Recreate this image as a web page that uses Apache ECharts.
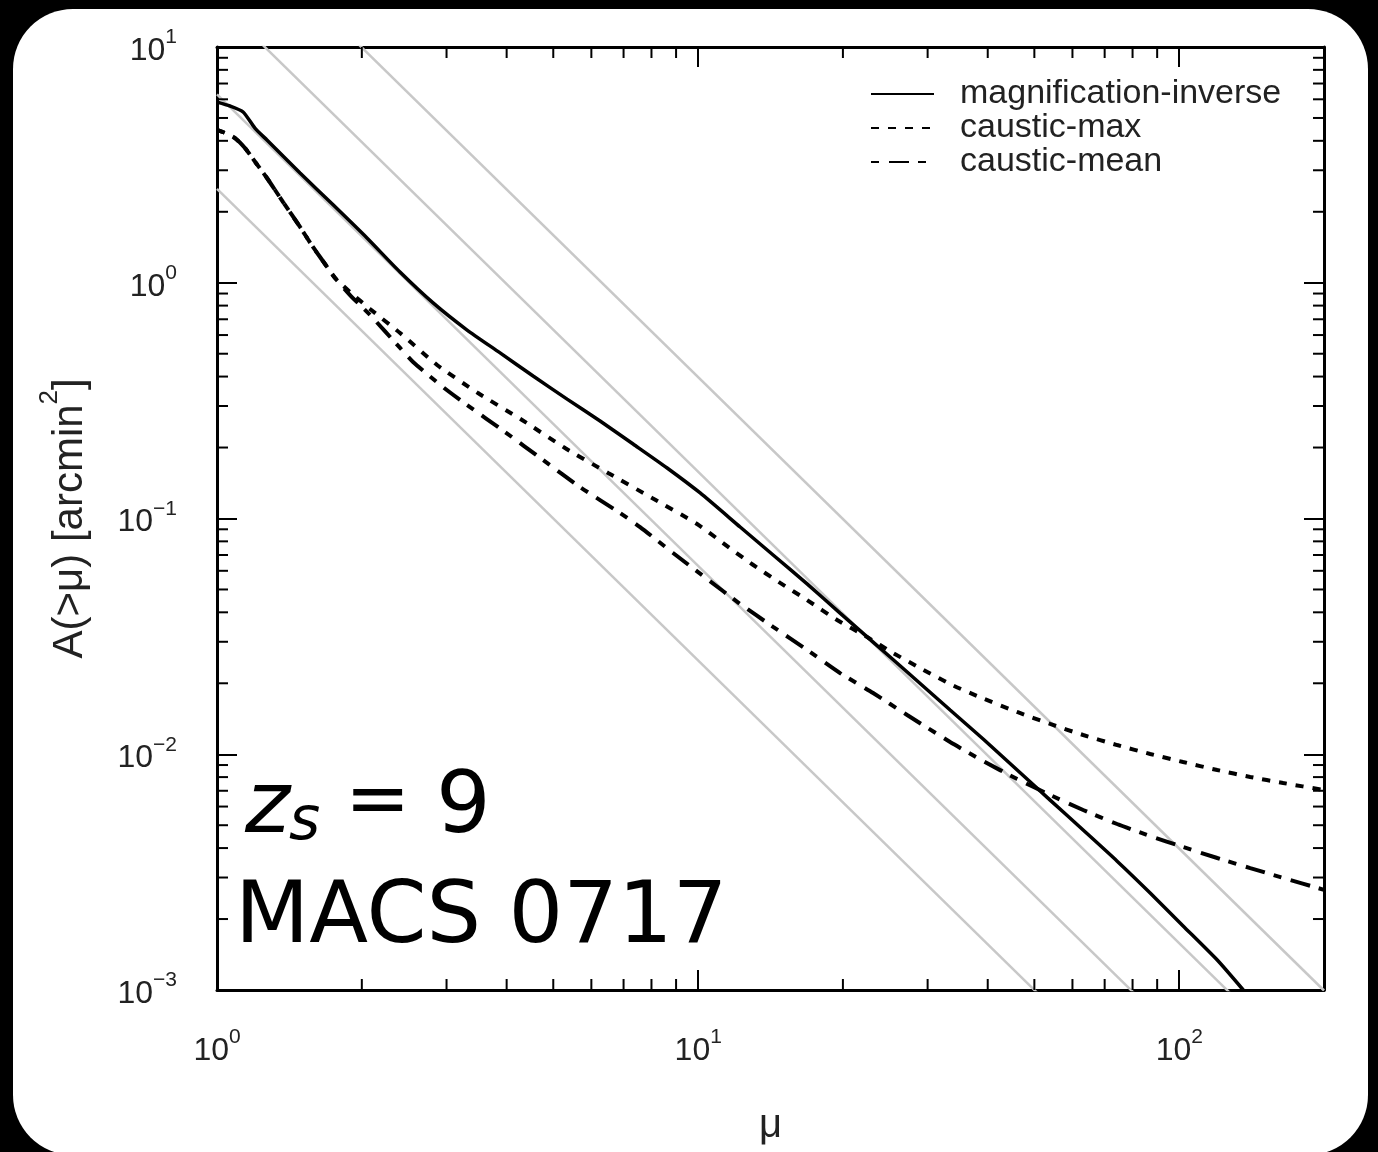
<!DOCTYPE html>
<html>
<head>
<meta charset="utf-8">
<script src="https://cdn.jsdelivr.net/npm/echarts@6/dist/echarts.min.js"></script>
<style>
  html, body { margin: 0; padding: 0; background: #000; }
  #chart { width: 1378px; height: 1152px; }
</style>
</head>
<body>
<div id="chart"></div>
<script>
// Cumulative lensed area A(>mu) [arcmin^2] against magnification mu
const magnificationInverse = [
  [1.000, 5.84], [1.064, 5.62], [1.133, 5.30], [1.199, 4.53], [1.270, 4.03],
  [1.488, 2.92], [1.743, 2.14], [2.050, 1.548], [2.401, 1.11], [2.813, 0.821],
  [3.310, 0.630], [3.876, 0.504], [4.540, 0.402], [5.342, 0.321], [6.256, 0.2593],
  [7.327, 0.207], [8.623, 0.1638], [10.10, 0.1283], [12.23, 0.0920], [14.32, 0.0700],
  [16.85, 0.0528], [19.73, 0.0397], [23.11, 0.0299], [27.20, 0.02233], [33.41, 0.0154],
  [39.13, 0.01161], [46.05, 0.00857], [53.92, 0.00639], [63.15, 0.00477], [74.31, 0.00352],
  [87.04, 0.00258], [101.9, 0.00187], [120.0, 0.00134], [135.9, 0.00100]
];

const causticMax = [
  [1.000, 4.45], [1.039, 4.32], [1.090, 4.11], [1.143, 3.73], [1.205, 3.221],
  [1.270, 2.782], [1.372, 2.200], [1.488, 1.724], [1.583, 1.418], [1.677, 1.201],
  [1.760, 1.047], [1.890, 0.914], [2.080, 0.774], [2.402, 0.612], [2.867, 0.448],
  [3.488, 0.3405], [4.306, 0.2618], [5.290, 0.199], [6.500, 0.156], [8.023, 0.1222],
  [9.952, 0.0948], [11.27, 0.0787], [12.83, 0.0648], [14.81, 0.0533], [16.85, 0.0451],
  [19.45, 0.0371], [22.46, 0.0314], [25.43, 0.0269], [29.37, 0.0228], [33.90, 0.01957],
  [39.13, 0.01724], [46.05, 0.01511], [53.92, 0.01344], [63.15, 0.01207], [74.31, 0.01094],
  [87.04, 0.01003], [101.9, 0.00927], [120.0, 0.00857], [140.5, 0.00801], [164.5, 0.00755],
  [200.0, 0.00705]
];

const causticMean = [
  [1.000, 4.45], [1.039, 4.32], [1.090, 4.11], [1.143, 3.73], [1.205, 3.221],
  [1.270, 2.782], [1.372, 2.200], [1.488, 1.724], [1.583, 1.418], [1.677, 1.201],
  [1.760, 1.047], [1.890, 0.887], [2.080, 0.730], [2.402, 0.529], [2.556, 0.461],
  [2.950, 0.361], [3.310, 0.303], [3.970, 0.2327], [4.762, 0.177], [5.683, 0.136],
  [6.884, 0.1055], [7.576, 0.0920], [8.873, 0.0714], [10.44, 0.0554], [12.23, 0.0434],
  [14.32, 0.0347], [16.85, 0.0277], [19.73, 0.0221], [23.11, 0.01819], [27.20, 0.01467],
  [33.41, 0.01127], [39.13, 0.00936], [46.05, 0.00785], [53.92, 0.00672], [63.15, 0.00580],
  [74.31, 0.00506], [87.04, 0.00450], [101.9, 0.00404], [120.0, 0.00363], [140.5, 0.00329],
  [164.5, 0.00299], [200.0, 0.00266]
];

// Reference lines of slope -2 (A proportional to mu^-2), given by their end points
const guideLines = [
  [[1, 2.5], [200, 6.25e-5]],
  [[1, 6.3], [200, 1.575e-4]],
  [[1, 15.8], [200, 3.95e-4]],
  [[1, 39.8], [200, 9.95e-4]]
];

const seriesNames = ['magnification-inverse', 'caustic-max', 'caustic-mean'];

const xRange = [1, 200];
const yRange = [0.001, 10];
const xMinorTicks = [2, 3, 4, 5, 6, 7, 8, 9, 20, 30, 40, 50, 60, 70, 80, 90];
const yMinorTicks = [
  0.002, 0.003, 0.004, 0.005, 0.006, 0.007, 0.008, 0.009,
  0.02, 0.03, 0.04, 0.05, 0.06, 0.07, 0.08, 0.09,
  0.2, 0.3, 0.4, 0.5, 0.6, 0.7, 0.8, 0.9,
  2, 3, 4, 5, 6, 7, 8, 9
];

const FONT = 'Liberation Sans';
const TEXT_COLOR = '#222';

// "10" with a raised exponent; the tiny spacer token sets the line height so
// the base sits low and the exponent sits high
function powerLabel(v) {
  const e = Math.round(Math.log10(v));
  if (Math.abs(v / Math.pow(10, e) - 1) > 1e-6) return '';
  const exp = e < 0 ? '\u2212' + (-e) : String(e);
  return '{p| }{b|10}{s|' + exp + '}';
}

const tickRich = {
  p: { fontSize: 1, lineHeight: 40, verticalAlign: 'top' },
  b: { fontSize: 32, fontFamily: FONT, color: TEXT_COLOR, verticalAlign: 'bottom', lineHeight: 32 },
  s: { fontSize: 21, fontFamily: FONT, color: TEXT_COLOR, verticalAlign: 'top', lineHeight: 21 }
};

function baseAxis(extra) {
  return Object.assign({
    type: 'log',
    logBase: 10,
    axisLine: { show: true, onZero: false, lineStyle: { color: '#000', width: 3 } },
    axisTick: { show: true, inside: true, length: 20, lineStyle: { color: '#000', width: 2 } },
    splitLine: { show: false },
    minorTick: { show: false },
    minorSplitLine: { show: false }
  }, extra);
}

// Minor (2..9) tick marks on all four sides of the frame
const minorTickData = xMinorTicks.map(v => [v, 1, 0]).concat(yMinorTicks.map(v => [1, v, 1]));

function renderMinorTick(params, api) {
  const cs = params.coordSys;
  const L = 11;
  const st = { stroke: '#000', lineWidth: 2 };
  if (api.value(2) === 0) {
    const px = api.coord([api.value(0), 1])[0];
    const yb = cs.y + cs.height, yt = cs.y;
    return { type: 'group', children: [
      { type: 'line', shape: { x1: px, y1: yb, x2: px, y2: yb - L }, style: st },
      { type: 'line', shape: { x1: px, y1: yt, x2: px, y2: yt + L }, style: st }
    ] };
  }
  const py = api.coord([1, api.value(1)])[1];
  const xl = cs.x, xr = cs.x + cs.width;
  return { type: 'group', children: [
    { type: 'line', shape: { x1: xl, y1: py, x2: xl + L, y2: py }, style: st },
    { type: 'line', shape: { x1: xr, y1: py, x2: xr - L, y2: py }, style: st }
  ] };
}

const chart = echarts.init(document.getElementById('chart'), null, { renderer: 'canvas' });

const guideSeries = guideLines.map(pts => ({
  type: 'line',
  data: pts,
  symbol: 'none',
  silent: true,
  clip: true,
  z: 1,
  lineStyle: { color: '#c8c8c8', width: 2.5 }
}));

const bigText = { fontFamily: 'DejaVu Sans', fill: '#000', verticalAlign: 'middle' };

function curve(name, data, width, dash) {
  return {
    name: name, type: 'line', data: data, symbol: 'none',
    smooth: 0.2, z: 5,
    lineStyle: { color: '#000', width: width, type: dash },
    itemStyle: { color: '#000' }
  };
}

chart.setOption({
  animation: false,
  backgroundColor: '#000',
  grid: { left: 217, top: 47, right: 54, bottom: 162 },
  xAxis: [
    baseAxis({
      position: 'bottom', min: xRange[0], max: xRange[1],
      name: 'μ', nameLocation: 'middle', nameGap: 116,
      nameTextStyle: { fontSize: 40, fontFamily: FONT, color: TEXT_COLOR },
      axisLabel: { margin: 37, formatter: powerLabel, rich: tickRich, showMaxLabel: true }
    }),
    baseAxis({
      position: 'top', min: xRange[0], max: xRange[1],
      axisLabel: { show: false }
    })
  ],
  yAxis: [
    baseAxis({
      position: 'left', min: yRange[0], max: yRange[1],
      name: '{p| }{a|A(>μ) [arcmin}{s|2}{a|]}', nameLocation: 'middle', nameGap: 126, nameRotate: 90,
      nameTextStyle: {
        rich: {
          p: { fontSize: 1, lineHeight: 54, verticalAlign: 'top' },
          a: { fontSize: 42, fontFamily: FONT, color: TEXT_COLOR, verticalAlign: 'bottom', lineHeight: 42 },
          s: { fontSize: 26, fontFamily: FONT, color: TEXT_COLOR, verticalAlign: 'top', lineHeight: 26 }
        }
      },
      axisLabel: { margin: 40, formatter: powerLabel, rich: tickRich }
    }),
    baseAxis({
      position: 'right', min: yRange[0], max: yRange[1],
      axisLabel: { show: false }
    })
  ],
  legend: {
    orient: 'vertical',
    left: 865,
    top: 72,
    itemWidth: 63,
    itemHeight: 14,
    itemGap: 0,
    data: seriesNames,
    itemStyle: { opacity: 0 },
    textStyle: { fontSize: 34, fontFamily: FONT, color: TEXT_COLOR, lineHeight: 30, padding: [0, 0, 0, 21] }
  },
  graphic: {
    elements: [
      { type: 'rect', z: -10, silent: true, shape: { x: 13, y: 9, width: 1355, height: 1146, r: 60 }, style: { fill: '#fff' } },
      { type: 'text', z: 100, x: 245, y: 810, style: Object.assign({ text: 'z', fontSize: 86, fontStyle: 'italic' }, bigText) },
      { type: 'text', z: 100, x: 289, y: 823, style: Object.assign({ text: 's', fontSize: 60, fontStyle: 'italic' }, bigText) },
      { type: 'text', z: 100, x: 345, y: 805, style: Object.assign({ text: '=', fontSize: 78 }, bigText) },
      { type: 'text', z: 100, x: 436, y: 810, style: Object.assign({ text: '9', fontSize: 86 }, bigText) },
      { type: 'text', z: 100, x: 235, y: 920, style: Object.assign({ text: 'MACS 0717', fontSize: 86 }, bigText) }
    ]
  },
  series: guideSeries.concat([
    {
      type: 'custom',
      silent: true,
      z: 3,
      renderItem: renderMinorTick,
      data: minorTickData,
      encode: { x: 0, y: 1 }
    },
    curve(seriesNames[0], magnificationInverse, 3.5, 'solid'),
    curve(seriesNames[1], causticMax, 4, [8, 9]),
    curve(seriesNames[2], causticMean, 4, [8, 10, 20, 9])
  ])
});
</script>
</body>
</html>
